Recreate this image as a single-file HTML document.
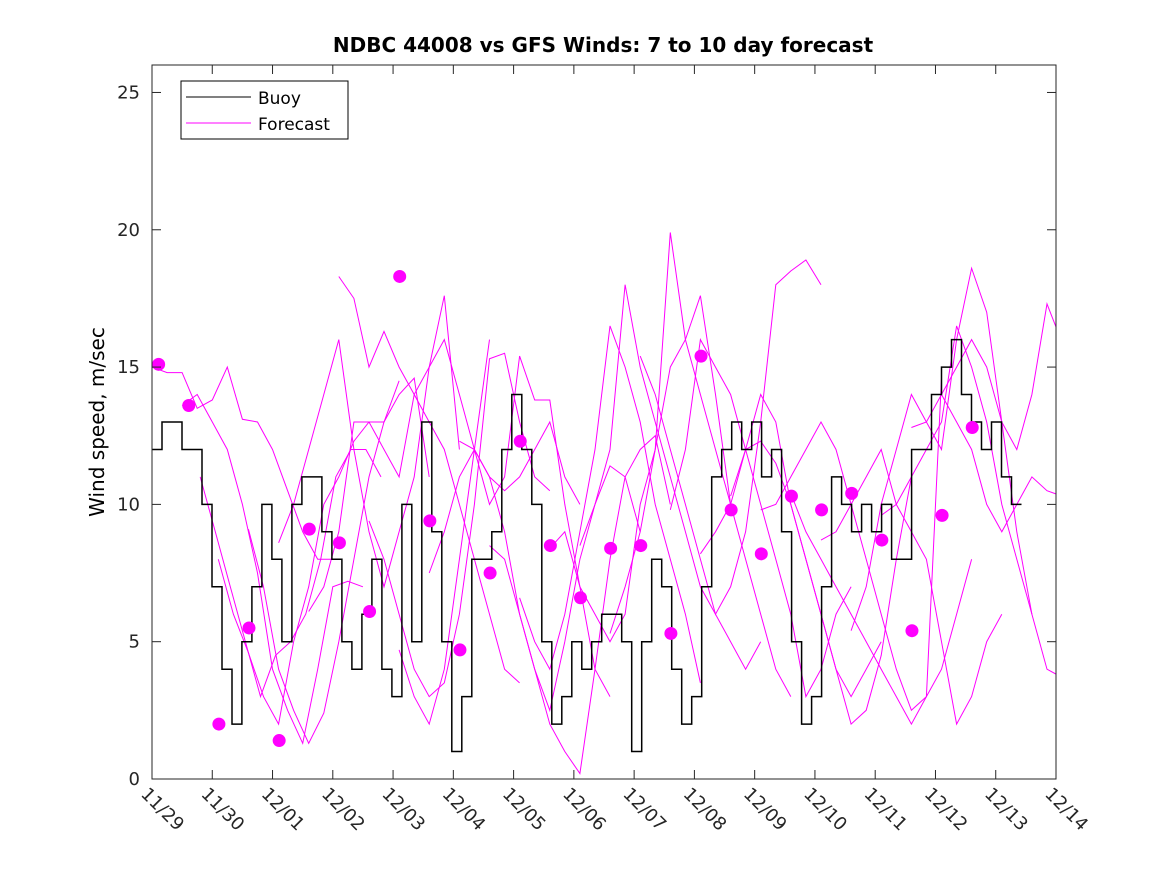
<!DOCTYPE html>
<html><head><meta charset="utf-8"><style>
body{margin:0;background:#fff;}
svg{display:block;font-family:"Liberation Sans","DejaVu Sans",sans-serif;}
</style></head><body>
<svg id="chart" width="1167" height="875" xmlns="http://www.w3.org/2000/svg">
<rect width="1167" height="875" fill="#fff"/>
<text x="603" y="52" text-anchor="middle" font-size="20" font-weight="bold" font-family="DejaVu Sans, sans-serif">NDBC 44008 vs GFS Winds: 7 to 10 day forecast</text>
<text transform="translate(104,422) rotate(-90)" text-anchor="middle" font-size="20" font-family="DejaVu Sans, sans-serif">Wind speed, m/sec</text>
<g id="plot"></g>
<g id="axes"></g>
<g>
<rect x="181" y="81" width="167" height="58" fill="#fff" stroke="#000" stroke-width="1"/>
<line x1="186" y1="97" x2="251" y2="97" stroke="#000"/>
<text x="258" y="104" font-size="17" font-family="DejaVu Sans, sans-serif">Buoy</text>
<line x1="186" y1="123" x2="251" y2="123" stroke="#f0f"/>
<text x="258" y="130" font-size="17" font-family="DejaVu Sans, sans-serif">Forecast</text>
</g>
</svg>
<script>
const xTickLabels=["11/29","11/30","12/01","12/02","12/03","12/04","12/05","12/06","12/07","12/08","12/09","12/10","12/11","12/12","12/13","12/14"];
const yTicks=[0,5,10,15,20,25];
const buoyStepHours=3.98;
const buoyValues=[12,13,13,12,12,10,7,4,2,5,7,10,8,5,10,11,11,9,8,5,4,6,8,4,3,10,5,13,9,5,1,3,8,8,9,12,14,12,10,5,2,3,5,4,5,6,6,5,1,5,8,7,4,2,3,7,11,12,13,12,13,11,12,9,5,2,3,7,11,10,9,10,9,10,8,8,12,12,14,15,16,14,13,12,13,11,10];
const buoyStartDay=0;
const fcStarts=[0,0.5,0.8,1.1,1.6,2.1,2.6,3.1,3.6,4.1,4.6,5.1,5.6,6.1,6.6,7.1,7.6,8.1,8.6,9.1,9.6,10.1,10.6,11.1,11.6,12.1,12.6,13.1];
const fcValues=[
[15,14.8,14.8,13.5,13.8,15,13.1,13,12,10.5,9,8,8],
[13.6,14,13,12,10,7.5,4,2.5,1.3,4,7,7.2,7],
[11,9,7,5,3,4.5,5,6,8,11,12,12,11],
[8,6,4.6,3,2,5,7,10,11,12.3,13,13,14.5],
[9.1,7,4,2.5,1.3,2.4,5,8,11,13,14,14.6,11],
[8.6,10,12,14,16,12,9,7,9,11,15,17.6,12],
[6.1,7,9,13,13,12,11,14,15,16,14,12,16],
[18.3,17.5,15,16.3,15,14,13,12,10,8,6,4,3.5],
[9.4,8,6,4,3,3.5,6,10,15.3,15.5,13,11,10.5],
[4.7,3,2,4,8,12,11,10.5,11,12,13,11,10],
[7.5,9,11,12,10,11,15.4,13.8,13.8,10,7,4,3],
[12.3,12,11,9,6,4,2.5,5,8,10,11.4,11,9],
[8.5,8,6,4,2,1,0.2,4,8,11,12,12.5,10],
[6.6,5,4,6,9,12,16.5,15,13,10,8,6,3.5],
[8.4,9,7,6,5,6,10,12,19.9,16,14,12,10],
[8.5,10,12,18,15,13,11,9,7,6,5,4,5],
[5.3,7,9,12,15,16,17.6,14,10,8,6,4,3],
[15.4,14,12,10,8,6,7,9,13,18,18.5,18.9,18],
[9.8,12,16,15,14,12,10,8,6,3,4,6,7],
[8.2,9,10,12,12.3,11.5,10,8,6,4,3,4,5],
[10.3,12,14,13,10,8,6,4,2,2.5,4.5,8,11],
[9.8,10,11,12,13,12,10,8,6,4,2.5,3,14.6],
[10.4,9,8,7,6,5,4,3,2,3,4,6,8],
[8.7,9,10,11,12,10,9,8,5,2,3,5,6],
[5.4,7,10,12,14,13,12,16,18.6,17,13,9,6],
[9.6,10,11,12,13,16.5,15,13,10,8,6,4,3.7],
[12.8,13,14,15,16,15,13,12,14,17.3,15.9,15,16],
[14,13,12,10,9,10,11,10.5,10.3,10.4,10.5,8,1]
];
const dotTimes=[0.11,0.61,1.11,1.61,2.11,2.61,3.11,3.61,4.11,4.61,5.11,5.61,6.11,6.61,7.11,7.61,8.11,8.61,9.11,9.61,10.11,10.61,11.11,11.61,12.11,12.61,13.11,13.61];
const dotValues=[15.1,13.6,2,5.5,1.4,9.1,8.6,6.1,18.3,9.4,4.7,7.5,12.3,8.5,6.6,8.4,8.5,5.3,15.4,9.8,8.2,10.3,9.8,10.4,8.7,5.4,9.6,12.8,14,7];
const fcStepDays=0.25;

const X0=152,X1=1056,Y0=779,Y1=65,XMAX=15,YMAX=26;
const xs=d=>X0+(X1-X0)*d/XMAX;
const ys=v=>Y0-(Y0-Y1)*v/YMAX;
const NS="http://www.w3.org/2000/svg";
const plot=document.getElementById('plot');
const axes=document.getElementById('axes');
function mk(tag,attrs,parent){const e=document.createElementNS(NS,tag);for(const k in attrs)e.setAttribute(k,attrs[k]);parent.appendChild(e);return e;}
const clip=mk('clipPath',{id:'pc'},plot);mk('rect',{x:X0,y:Y1,width:X1-X0,height:Y0-Y1},clip);
const g=mk('g',{'clip-path':'url(#pc)'},plot);
fcValues.forEach((vals,i)=>{
  const pts=vals.map((v,j)=>xs(fcStarts[i]+j*fcStepDays).toFixed(1)+','+ys(v).toFixed(1)).join(' ');
  const pl=mk('polyline',{points:pts,fill:'none',stroke:'#f0f','stroke-width':1},g);
  
  
});
{
  let pts=[];
  buoyValues.forEach((v,j)=>{const t=buoyStartDay+j*buoyStepHours/24;pts.push(xs(t).toFixed(1)+','+ys(v).toFixed(1));pts.push(xs(t+buoyStepHours/24).toFixed(1)+','+ys(v).toFixed(1));});
  const pl=mk('polyline',{points:pts.join(' '),fill:'none',stroke:'#000','stroke-width':1.5},g);
  
  
}
dotValues.forEach((v,i)=>{
  const c=mk('circle',{cx:xs(dotTimes[i]),cy:ys(v),r:6.5,fill:'#f0f'},g);
  
  
});
const frame=mk('rect',{x:X0,y:Y1,width:X1-X0,height:Y0-Y1,fill:'none',stroke:'#262626','stroke-width':1},axes);


yTicks.forEach(v=>{
  const y=ys(v);
  mk('line',{x1:X0,y1:y,x2:X0+9,y2:y,stroke:'#262626'},axes);
  mk('line',{x1:X1,y1:y,x2:X1-9,y2:y,stroke:'#262626'},axes);
  const t=mk('text',{x:X0-12,y:y+6,'text-anchor':'end','font-size':18,'font-family':'DejaVu Sans, sans-serif',fill:'#262626'},axes);
  t.textContent=v;
  
  
});
xTickLabels.forEach((lab,i)=>{
  const x=xs(i);
  mk('line',{x1:x,y1:Y0,x2:x,y2:Y0-9,stroke:'#262626'},axes);
  mk('line',{x1:x,y1:Y1,x2:x,y2:Y1+9,stroke:'#262626'},axes);
  const t=mk('text',{transform:`translate(${x-12},${Y0+16}) rotate(45)`,'font-size':18,'font-family':'DejaVu Sans, sans-serif',fill:'#262626'},axes);
  t.textContent=lab;
  
  
});
</script>
</body></html>
